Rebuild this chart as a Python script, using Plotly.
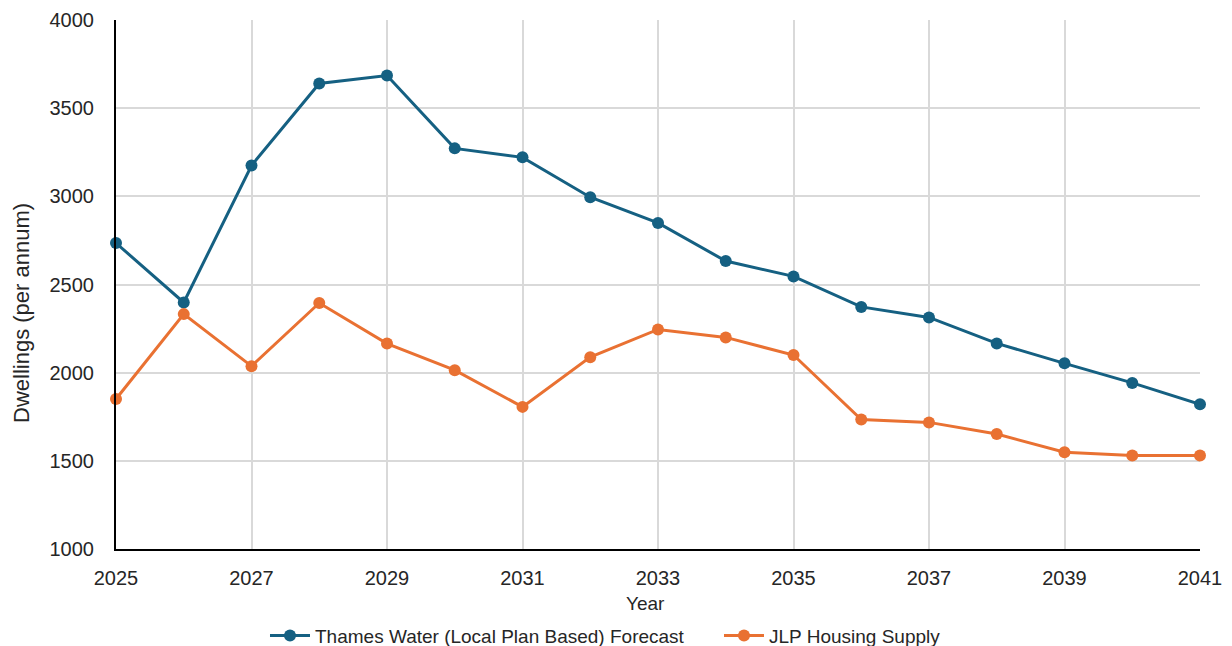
import plotly.graph_objects as go

# Annual dwelling figures, 2025-2041
years = list(range(2025, 2042))
thames_water = [2735, 2398, 3175, 3640, 3685, 3272, 3221, 2995, 2849, 2633,
                2546, 2373, 2313, 2166, 2053, 1942, 1821]
jlp_supply = [1851, 2332, 2037, 2395, 2165, 2014, 1806, 2088, 2245, 2200,
              2100, 1734, 1718, 1652, 1549, 1530, 1530]

series_names = ["Thames Water (Local Plan Based) Forecast", "JLP Housing Supply"]
series_colors = ["#156082", "#E97132"]

x_ticks = list(range(2025, 2042, 2))
y_ticks = [1000, 1500, 2000, 2500, 3000, 3500, 4000]

W, H = 1232, 646
base = "Liberation Sans, Arial, sans-serif"
text_col = "#262626"
tick_font = dict(family=base, size=20, color=text_col)
legend_font = dict(family=base, size=19, color=text_col)

fig = go.Figure()
for name, vals, col in zip(series_names, [thames_water, jlp_supply], series_colors):
    fig.add_trace(go.Scatter(
        x=years, y=vals, name=name, mode="lines+markers",
        line=dict(color=col, width=3),
        marker=dict(color=col, size=12),
        cliponaxis=False,
    ))

fig.update_layout(
    width=W, height=H,
    margin=dict(l=116, r=32, t=20, b=97, autoexpand=False),
    paper_bgcolor="white", plot_bgcolor="white",
    showlegend=True,
    legend=dict(
        orientation="h", x=0.5836, xanchor="center", xref="container",
        y=0.016, yanchor="middle", yref="container",
        font=legend_font, itemwidth=40, tracegroupgap=0,
        entrywidth=399, entrywidthmode="pixels",
    ),
)

fig.update_xaxes(
    range=[2025, 2041], tickvals=x_ticks, ticktext=[str(v) for v in x_ticks],
    showgrid=True, gridcolor="#d9d9d9", gridwidth=2,
    showline=True, linecolor="black", linewidth=2,
    ticks="", ticklabelstandoff=10, tickfont=tick_font,
    zeroline=False,
)
fig.update_yaxes(
    range=[1000, 4000], tickvals=y_ticks,
    showgrid=True, gridcolor="#d9d9d9", gridwidth=2,
    showline=True, linecolor="black", linewidth=2,
    ticks="", ticklabelstandoff=16, tickfont=tick_font,
    zeroline=False,
)

# Axis titles placed as paper-anchored labels
fig.add_annotation(
    text="Year", xref="paper", yref="paper",
    x=(645 - 116) / (W - 116 - 32), y=-(604 - (H - 97)) / (H - 97 - 20),
    showarrow=False, xanchor="center", yanchor="middle",
    font=dict(family=base, size=19, color=text_col),
)
fig.add_annotation(
    text="Dwellings (per annum)", xref="paper", yref="paper",
    x=-(116 - 21) / (W - 116 - 32), y=(H - 97 - 313) / (H - 97 - 20),
    showarrow=False, xanchor="center", yanchor="middle", textangle=-90,
    font=dict(family=base, size=22, color=text_col),
)

fig.write_html("out.html")
